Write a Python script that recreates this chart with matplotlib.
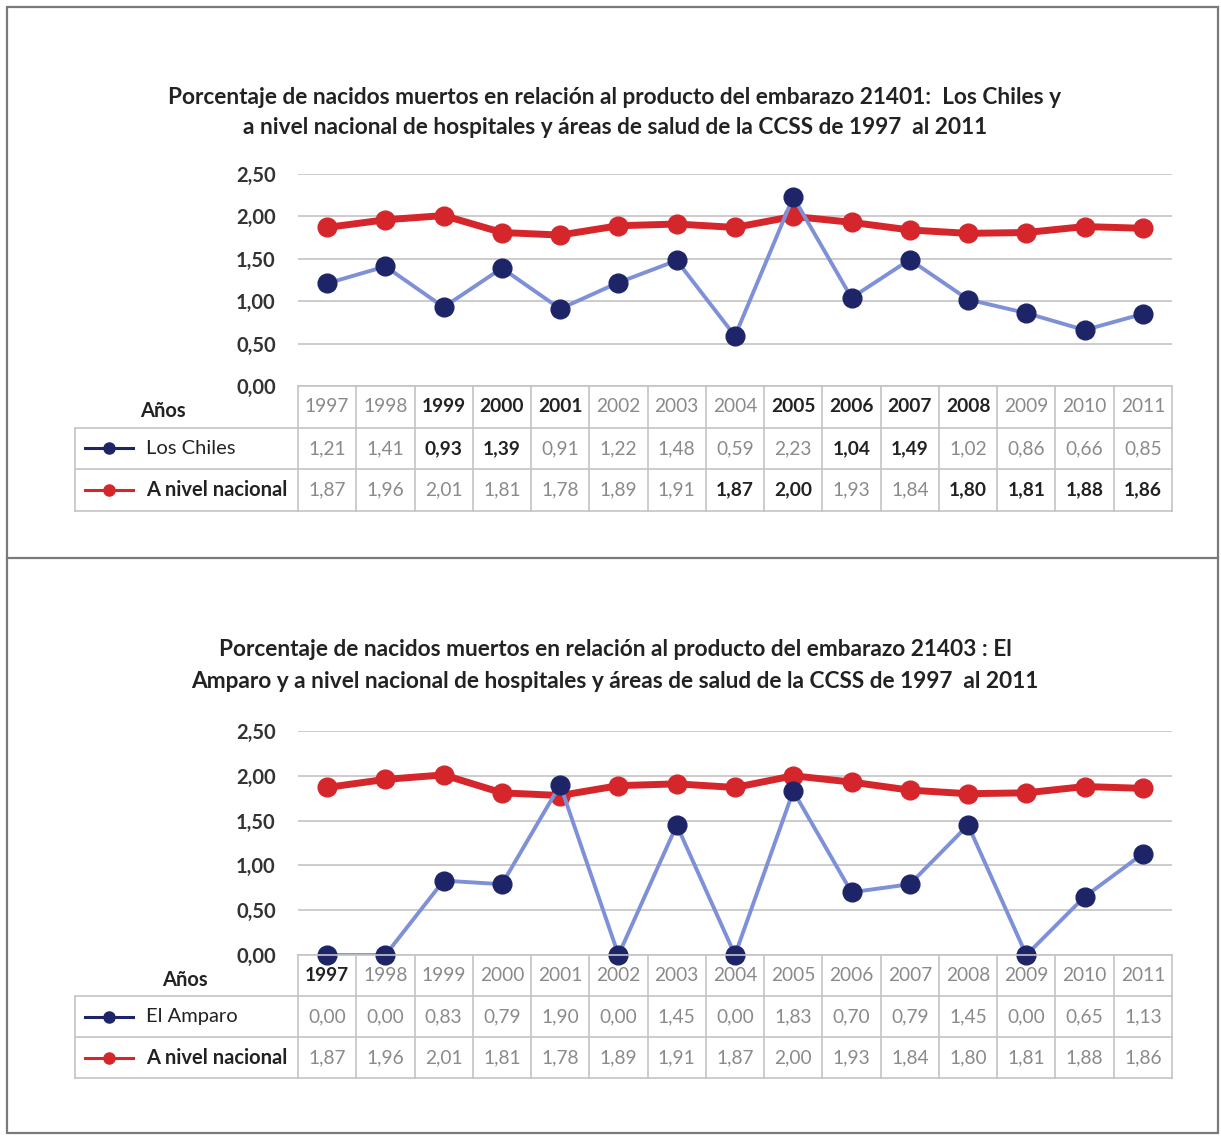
import numpy as np
import matplotlib
matplotlib.use("Agg")
import matplotlib.pyplot as plt
from matplotlib.patches import Rectangle
from matplotlib.lines import Line2D

plt.rcParams['font.family'] = ['Lato', 'DejaVu Sans']

# ---- data ----
years = ["1997", "1998", "1999", "2000", "2001", "2002", "2003", "2004",
         "2005", "2006", "2007", "2008", "2009", "2010", "2011"]
los_chiles = [1.21, 1.41, 0.93, 1.39, 0.91, 1.22, 1.48, 0.59, 2.23, 1.04,
              1.49, 1.02, 0.86, 0.66, 0.85]
el_amparo = [0.00, 0.00, 0.83, 0.79, 1.90, 0.00, 1.45, 0.00, 1.83, 0.70,
             0.79, 1.45, 0.00, 0.65, 1.13]
nacional = [1.87, 1.96, 2.01, 1.81, 1.78, 1.89, 1.91, 1.87, 2.00, 1.93,
            1.84, 1.80, 1.81, 1.88, 1.86]
yticks = [0.0, 0.5, 1.0, 1.5, 2.0, 2.5]

title_1 = ["Porcentaje de nacidos muertos en relación al producto del embarazo 21401:  Los Chiles y",
           "a nivel nacional de hospitales y áreas de salud de la CCSS de 1997  al 2011"]
title_2 = ["Porcentaje de nacidos muertos en relación al producto del embarazo 21403 : El",
           "Amparo y a nivel nacional de hospitales y áreas de salud de la CCSS de 1997  al 2011"]

W, H = 1221, 1136
fig = plt.figure(figsize=(W / 100, H / 100), dpi=100)
fig.patch.set_facecolor("white")

BLUE_LINE = "#7d90d8"
NAVY = "#1d2568"
RED = "#d5262b"
GRID = "#c8c8c8"
TXT = "#222222"
LIGHT = "#8a8a8a"


def fx(x):
    return x / W


def fy(y):
    return 1 - y / H


def fmt(v):
    return f"{v:.2f}".replace(".", ",")


# outer frame and separator
fig.add_artist(Rectangle((fx(7), fy(1133)), fx(1211), (1126) / H,
                         transform=fig.transFigure, fill=False,
                         edgecolor="#7a7a7a", lw=1.6))
fig.add_artist(Line2D([fx(7), fx(1218)], [fy(558), fy(558)],
                      transform=fig.transFigure, color="#7a7a7a", lw=1.6))

PLOT_L, PLOT_R, TAB_L = 298, 1172, 75
unit = (PLOT_R - PLOT_L) / 15.0
lab_w = (PLOT_L - TAB_L) / unit
FS = 13.8


def panel(titles, title_y, top, bottom, tab_bottom, name, values,
          yr_bold, loc_bold, nat_bold, anos_x):
    for t, ty in zip(titles, title_y):
        fig.text(fx(615), fy(ty), t, ha="center", va="center",
                 fontsize=16.3, fontweight="bold", color=TXT)

    ax = fig.add_axes([fx(PLOT_L), fy(bottom), fx(PLOT_R - PLOT_L),
                       (bottom - top) / H])
    x = np.arange(len(years))
    ax.set_xlim(-0.5, len(years) - 0.5)
    ax.set_ylim(0, 2.5)
    ax.set_yticks(yticks)
    ax.set_yticklabels([fmt(v) for v in yticks], fontsize=14.5,
                       fontweight="bold", color="#333333")
    ax.tick_params(axis="y", length=0, pad=16)
    ax.set_xticks([])
    for s in ax.spines.values():
        s.set_visible(False)
    ax.grid(axis="y", color=GRID, lw=1.3)
    ax.set_axisbelow(True)

    ax.plot(x, nacional, color=RED, lw=5.0, marker="o", markersize=13.5,
            markerfacecolor=RED, markeredgecolor=RED, zorder=3,
            solid_joinstyle="round")
    ax.plot(x, values, color=BLUE_LINE, lw=2.8, zorder=4)
    ax.plot(x, values, ls="none", marker="o", markersize=13.5,
            markerfacecolor=NAVY, markeredgecolor=NAVY, zorder=5,
            clip_on=False)

    # data table below the plot
    tab = fig.add_axes([fx(TAB_L), fy(tab_bottom), fx(PLOT_R - TAB_L),
                        (tab_bottom - bottom) / H])
    tab.set_xlim(-0.5 - lab_w, len(years) - 0.5)
    tab.set_ylim(3, 0)
    tab.axis("off")
    lc = "#c4c4c4"
    xl, xr = -0.5 - lab_w, len(years) - 0.5
    tab.plot([-0.5, xr], [0, 0], color=lc, lw=1.2, clip_on=False)
    for yy in (1, 2, 3):
        tab.plot([xl, xr], [yy, yy], color=lc, lw=1.2, clip_on=False)
    tab.plot([xl, xl], [1, 3], color=lc, lw=1.2, clip_on=False)
    for i in range(len(years) + 1):
        tab.plot([i - 0.5, i - 0.5], [0, 3], color=lc, lw=1.2, clip_on=False)

    anos_data = (anos_x - TAB_L) / unit + xl
    tab.text(anos_data, 0.6, "Años", ha="center", va="center",
             fontsize=14.5, fontweight="bold", color=TXT)
    for i, yr in enumerate(years):
        b = yr_bold[i]
        tab.text(i, 0.5, yr, ha="center", va="center", fontsize=FS,
                 fontweight="bold" if b else "normal",
                 color=TXT if b else LIGHT)
        b = loc_bold[i]
        tab.text(i, 1.5, fmt(values[i]), ha="center", va="center",
                 fontsize=FS, fontweight="bold" if b else "normal",
                 color=TXT if b else LIGHT)
        b = nat_bold[i]
        tab.text(i, 2.5, fmt(nacional[i]), ha="center", va="center",
                 fontsize=FS, fontweight="bold" if b else "normal",
                 color=TXT if b else LIGHT)

    # legend keys inside the label column
    k0 = xl + (85 - TAB_L) / unit
    k1 = xl + (133 - TAB_L) / unit
    km = (k0 + k1) / 2
    tx = xl + (146 - TAB_L) / unit
    for row, col, lab in ((1.5, NAVY, name), (2.5, RED, "A nivel nacional")):
        tab.plot([k0, k1], [row, row], color=col, lw=2.2, clip_on=False)
        tab.plot([km], [row], marker="o", markersize=8, color=col,
                 clip_on=False)
        tab.text(tx, row, lab, ha="left", va="center", fontsize=14.5,
                 fontweight="bold" if row > 2 else "normal", color=TXT)
    return ax


yb1 = [False, False, True, True, True, False, False, False, True, True,
       True, True, False, False, False]
lb1 = [False, False, True, True, False, False, False, False, False, True,
       True, False, False, False, False]
nb1 = [False, False, False, False, False, False, False, True, True, False,
       False, True, True, True, True]
panel(title_1, (97, 127), 174, 386, 511, "Los Chiles", los_chiles,
      yb1, lb1, nb1, 163)

yb2 = [True] + [False] * 14
lb2 = [False] * 15
nb2 = [False] * 15
panel(title_2, (650, 682), 731, 955, 1078, "El Amparo", el_amparo,
      yb2, lb2, nb2, 185)

fig.savefig("out.png", dpi=100, facecolor="white")
